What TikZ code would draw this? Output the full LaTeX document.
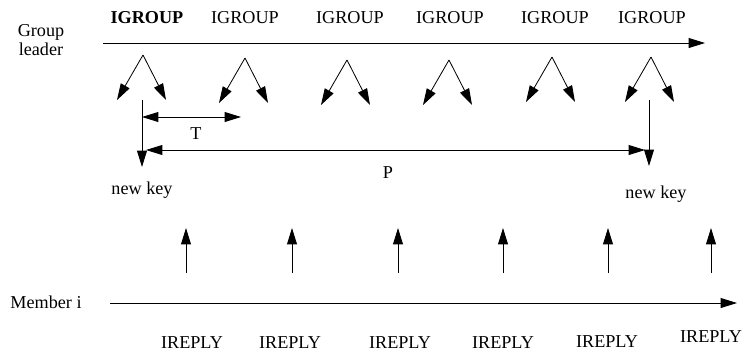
\documentclass[tikz,border=0pt]{standalone}
\usepackage{fontspec}
\setmainfont{Liberation Serif}
\usetikzlibrary{arrows.meta}

\tikzset{
  txt/.style={font=\fontsize{15.5}{15.5}\selectfont, inner sep=0pt},
  tip/.style={-{Triangle[length=14pt,width=8.5pt]}, line width=0.7pt},
  twotip/.style={{Triangle[length=14pt,width=8.5pt]}-{Triangle[length=14pt,width=8.5pt]}, line width=0.7pt}
}

\begin{document}
\begin{tikzpicture}[x=0.03cm,y=-0.03cm]
  \useasboundingbox (0,0) rectangle (742,354);

  % group leader time line
  \node[txt, align=center] (leader) at (41,40) {Group\\leader};
  \coordinate (lstart) at (103,43);
  \coordinate (lend) at (705,43);
  \draw[tip] (lstart) -- (lend);

  \node[txt] (ig1) at (147,18) {\textbf{IGROUP}};
  \foreach \x [count=\i from 2] in {245,350,450,555,652}
    \node[txt] (ig\i) at (\x,18) {IGROUP};

  \foreach \x/\y [count=\i] in {143/55,245/58,347/60,449/60,552/57,651/57} {
    \coordinate (fork\i) at (\x,\y);
    \coordinate (forkl\i) at (\x-26,\y+45);
    \coordinate (forkr\i) at (\x+23,\y+45);
    \draw[tip] (fork\i) -- (forkl\i);
    \draw[tip] (fork\i) -- (forkr\i);
  }

  % new keys
  \coordinate (k1top) at (142,100);
  \coordinate (k1bot) at (142,167);
  \draw[tip] (k1top) -- (k1bot);
  \node[txt] (key1) at (142,190) {new key};
  \coordinate (k2top) at (649,100);
  \coordinate (k2bot) at (649,166);
  \draw[tip] (k2top) -- (k2bot);
  \node[txt] (key2) at (656,194) {new key};

  \coordinate (t0) at (142,117);
  \coordinate (t1) at (241,117);
  \draw[twotip] (t0) -- (t1);
  \node[txt] (tlabel) at (196,134) {T};

  \coordinate (p0) at (146,150);
  \coordinate (p1) at (645,150);
  \draw[twotip] (p0) -- (p1);
  \node[txt] (plabel) at (388,173) {P};

  % member time line
  \node[txt] (member) at (46,302) {Member i};
  \coordinate (mstart) at (110,303);
  \coordinate (mend) at (737,303);
  \draw[tip] (mstart) -- (mend);

  \foreach \x/\lx/\ly [count=\i] in {186/192/343,292/290/343,398/400/343,503/503/343,608/607/342,711/711/337} {
    \coordinate (rb\i) at (\x,273);
    \coordinate (rt\i) at (\x,228);
    \draw[tip] (rb\i) -- (rt\i);
    \node[txt] (ir\i) at (\lx,\ly) {IREPLY};
  }
\end{tikzpicture}
\end{document}
